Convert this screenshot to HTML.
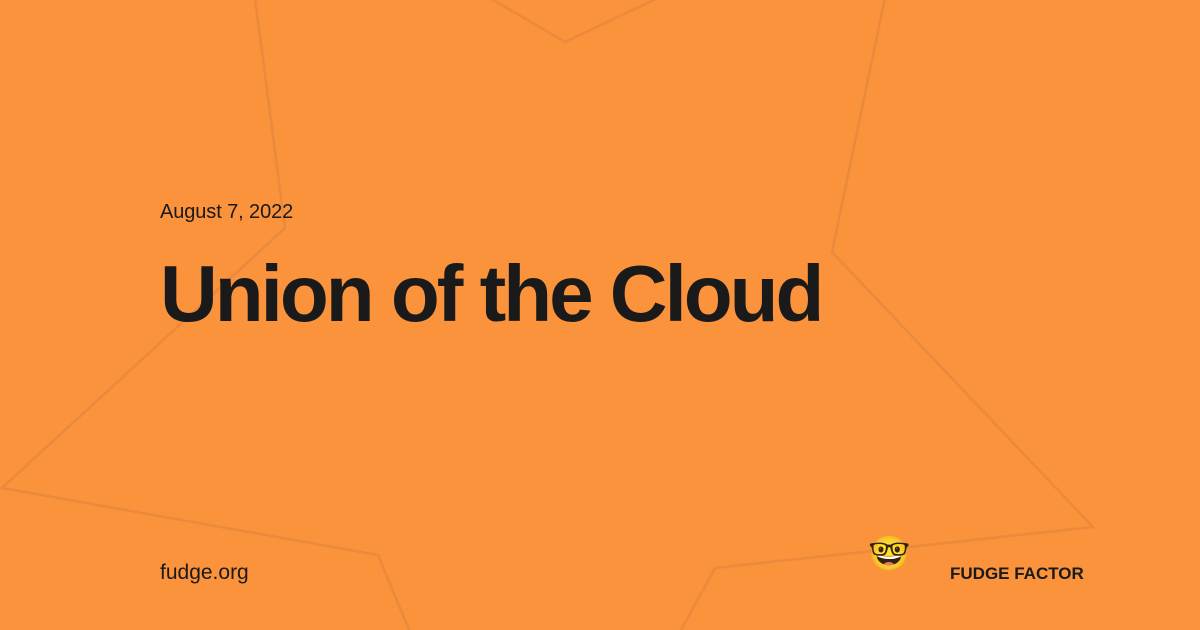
<!DOCTYPE html>
<html><head><meta charset="utf-8"><style>
html,body{margin:0;padding:0}
body{width:1200px;height:630px;background:#fb923c;position:relative;overflow:hidden;font-family:"Liberation Sans",Arial,sans-serif;color:#1a1a1a}
svg{position:absolute;left:0;top:0}
.t{position:absolute;white-space:nowrap}
</style></head><body>
<svg width="1200" height="630" viewBox="0 0 1200 630">
<g fill="none" stroke="#d9823d" stroke-width="2.5" stroke-opacity="0.5">
<polyline points="255,-2 285,228 2,488 378,555 410,632"/>
<polyline points="490,-2 565,42 658,-2"/>
<polyline points="885,-2 832,252 1093,527 715,568 680,632"/>
</g>
</svg>
<div class="t" style="left:160px;top:201px;font-size:20px;letter-spacing:-0.1px">August 7, 2022</div>
<div class="t" style="left:160px;top:248px;font-size:80px;font-weight:bold;letter-spacing:-3px">Union of the Cloud</div>
<div class="t" style="left:160px;top:561px;font-size:21px">fudge.org</div>
<div class="t" style="left:868px;top:534px;font-size:34px;line-height:40px">🤓</div>
<div class="t" style="left:950px;top:564px;font-size:17px;font-weight:bold">FUDGE FACTOR</div>
</body></html>
